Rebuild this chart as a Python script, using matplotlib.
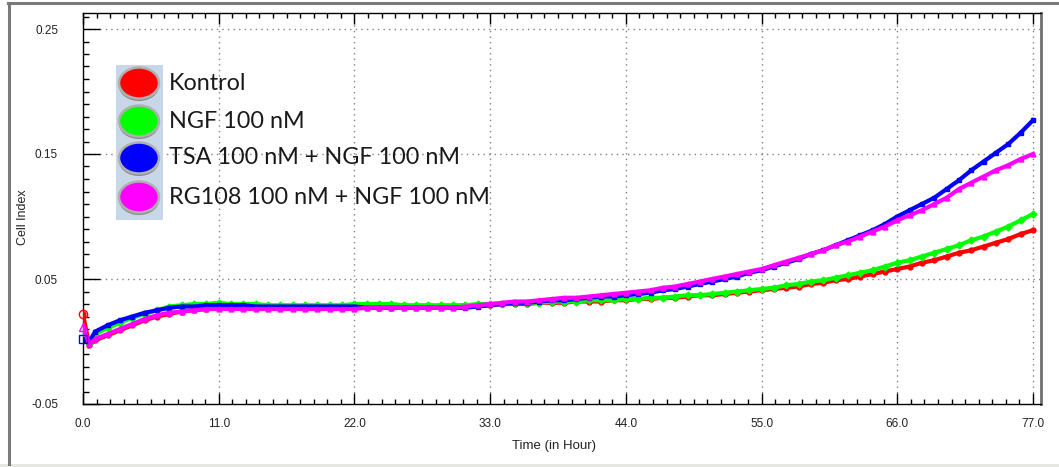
import matplotlib
matplotlib.use("Agg")
import matplotlib.pyplot as plt
from matplotlib.patches import Rectangle, Ellipse
from matplotlib.lines import Line2D
from matplotlib.ticker import MultipleLocator, FixedLocator

# ---------------- data ----------------
time_h = [0, 0.5] + list(range(1, 78))

kontrol = [0.022, -0.003,
           0.001, 0.005, 0.009, 0.013, 0.017, 0.020, 0.022, 0.024, 0.025, 0.026,
           0.027, 0.027, 0.028, 0.028, 0.027, 0.027, 0.028, 0.028, 0.027, 0.027,
           0.028, 0.028, 0.028, 0.027, 0.027, 0.028, 0.028, 0.028, 0.028, 0.028,
           0.029, 0.029, 0.029, 0.030, 0.030, 0.030, 0.031, 0.031, 0.031, 0.032,
           0.032, 0.032, 0.033, 0.033, 0.034, 0.034, 0.035, 0.035, 0.036, 0.037,
           0.037, 0.038, 0.039, 0.040, 0.041, 0.042, 0.043, 0.044, 0.046, 0.047,
           0.049, 0.050, 0.052, 0.054, 0.056, 0.058, 0.060, 0.063, 0.065, 0.068,
           0.071, 0.073, 0.076, 0.079, 0.082, 0.086, 0.089]

ngf = [0.004, -0.001,
       0.006, 0.011, 0.015, 0.019, 0.022, 0.025, 0.028, 0.029, 0.030, 0.030,
       0.031, 0.030, 0.030, 0.030, 0.029, 0.029, 0.029, 0.029, 0.029, 0.029,
       0.029, 0.030, 0.030, 0.030, 0.030, 0.029, 0.029, 0.029, 0.029, 0.029,
       0.029, 0.030, 0.030, 0.030, 0.031, 0.031, 0.031, 0.032, 0.032, 0.032,
       0.033, 0.033, 0.033, 0.034, 0.034, 0.035, 0.035, 0.036, 0.037, 0.037,
       0.038, 0.039, 0.040, 0.041, 0.042, 0.043, 0.045, 0.046, 0.048, 0.049,
       0.051, 0.053, 0.055, 0.057, 0.060, 0.063, 0.065, 0.068, 0.071, 0.074,
       0.077, 0.081, 0.084, 0.088, 0.092, 0.097, 0.102]

tsa_ngf = [0.002, 0.000,
           0.008, 0.013, 0.017, 0.020, 0.023, 0.025, 0.027, 0.028, 0.028, 0.029,
           0.029, 0.029, 0.029, 0.028, 0.028, 0.028, 0.028, 0.028, 0.028, 0.028,
           0.028, 0.028, 0.027, 0.027, 0.027, 0.027, 0.027, 0.027, 0.027, 0.027,
           0.027, 0.028, 0.029, 0.030, 0.031, 0.031, 0.032, 0.033, 0.033, 0.034,
           0.035, 0.036, 0.036, 0.037, 0.038, 0.039, 0.041, 0.042, 0.044, 0.046,
           0.048, 0.050, 0.052, 0.055, 0.057, 0.060, 0.063, 0.066, 0.070, 0.073,
           0.077, 0.081, 0.085, 0.089, 0.094, 0.100, 0.105, 0.110, 0.115, 0.122,
           0.129, 0.137, 0.144, 0.151, 0.158, 0.167, 0.177]

rg108_ngf = [0.012, -0.002,
             0.002, 0.006, 0.010, 0.014, 0.018, 0.021, 0.023, 0.024, 0.025, 0.026,
             0.026, 0.026, 0.026, 0.026, 0.026, 0.026, 0.026, 0.026, 0.026, 0.026,
             0.026, 0.026, 0.027, 0.027, 0.027, 0.027, 0.027, 0.027, 0.027, 0.027,
             0.028, 0.029, 0.030, 0.031, 0.032, 0.032, 0.033, 0.034, 0.035, 0.035,
             0.036, 0.037, 0.038, 0.039, 0.040, 0.041, 0.043, 0.044, 0.046, 0.048,
             0.050, 0.052, 0.054, 0.056, 0.058, 0.061, 0.064, 0.067, 0.070, 0.073,
             0.077, 0.080, 0.084, 0.088, 0.092, 0.097, 0.101, 0.105, 0.110, 0.115,
             0.122, 0.127, 0.132, 0.137, 0.141, 0.146, 0.150]

labels = ["Kontrol", "NGF 100 nM", "TSA 100 nM + NGF 100 nM", "RG108 100 nM + NGF 100 nM"]
colors = ["#ff0000", "#00ff00", "#0000ff", "#ff00ff"]
markers = ["o", "D", "s", "^"]
series = [kontrol, ngf, tsa_ngf, rg108_ngf]
show_start = [True, False, True, True]

x_ticks = [0.0, 11.0, 22.0, 33.0, 44.0, 55.0, 66.0, 77.0]
y_ticks = [-0.05, 0.05, 0.15, 0.25]

# ---------------- figure ----------------
W, H = 1059, 467
fig = plt.figure(figsize=(W / 100, H / 100), dpi=100)
fig.patch.set_facecolor("white")

def fx(px):
    return px / W

def fy(py):
    return 1 - py / H

ax = fig.add_axes([fx(83), fy(404), fx(1041) - fx(83), fy(13) - fy(404)])
ax.set_xlim(0, 77.65)
ax.set_ylim(-0.05, 0.2628)

for xs in x_ticks[1:]:
    ax.axvline(xs, color="#808080", lw=1.0, ls=(0, (1, 3)), zorder=1)
for ys in y_ticks[1:]:
    ax.axhline(ys, color="#808080", lw=1.0, ls=(0, (1, 3)), zorder=1)

for vals, c, m, s in zip(series, colors, markers, show_start):
    ax.plot(time_h, vals, color=c, lw=3.0, marker=m, ms=3.5, mec=c, mfc=c, zorder=3,
            solid_joinstyle="miter")
    if s:
        ax.plot(time_h[:1], vals[:1], ls="none", marker=m, ms=6, mfc="none", mec=c,
                mew=1.0, zorder=4, clip_on=False)

ax.xaxis.set_major_locator(FixedLocator(x_ticks))
ax.xaxis.set_minor_locator(MultipleLocator(1.1))
ax.yaxis.set_major_locator(FixedLocator(y_ticks))
ax.yaxis.set_minor_locator(MultipleLocator(0.01))
ax.set_xticklabels([f"{v:.1f}" for v in x_ticks])
ax.set_yticklabels([f"{v:.2f}" for v in y_ticks])

ax.tick_params(axis="x", which="major", direction="in", length=8, width=1,
               top=True, bottom=True, pad=10, labelsize=8.5, labelcolor="#222222")
ax.tick_params(axis="x", which="minor", direction="in", length=3.6, width=1,
               top=True, bottom=True)
ax.tick_params(axis="y", which="major", direction="in", length=12, width=1,
               left=True, right=False, pad=18, labelsize=8.5, labelcolor="#222222")
ax.tick_params(axis="y", which="minor", direction="in", length=4.3, width=1,
               left=True, right=False)
for lab in ax.get_xticklabels() + ax.get_yticklabels():
    lab.set_family(["Liberation Sans", "DejaVu Sans"])

for side in ["left", "bottom", "top"]:
    ax.spines[side].set_color("black")
    ax.spines[side].set_linewidth(1.0)
ax.spines["right"].set_color("#707070")
ax.spines["right"].set_linewidth(2.0)

fig.text(fx(23), fy(217), "Cell Index", rotation=90, ha="center", va="center",
         fontsize=9, family=["Liberation Sans", "DejaVu Sans"], color="#222222")
fig.text(fx(554), fy(446), "Time (in Hour)", ha="center", va="center",
         fontsize=9.5, family=["Liberation Sans", "DejaVu Sans"], color="#222222")

# ---------------- legend (custom) ----------------
fig.patches.append(Rectangle((fx(116), fy(220)), fx(163) - fx(116), fy(65) - fy(220),
                             transform=fig.transFigure, facecolor="#c8d7e8",
                             edgecolor="none", zorder=5))
leg_y = [83, 121, 158, 197]
for yy, c, lab in zip(leg_y, colors, labels):
    fig.patches.append(Ellipse((fx(139), fy(yy + 3)), fx(40), 30 / H,
                               transform=fig.transFigure, facecolor="#8a8a8a",
                               edgecolor="none", zorder=6))
    fig.patches.append(Ellipse((fx(139), fy(yy)), fx(40), 31 / H,
                               transform=fig.transFigure, facecolor=c,
                               edgecolor="#b0b0b0", lw=1.8, zorder=7))
    fig.text(fx(169), fy(yy), lab, ha="left", va="center", fontsize=16.8,
             family=["Lato", "DejaVu Sans"], color="#1a1a1a", zorder=8)

# ---------------- window frame ----------------
fig.add_artist(Line2D([fx(8), fx(1059)], [fy(3), fy(3)], transform=fig.transFigure,
                      color="#7a7a7a", lw=2.2))
fig.add_artist(Line2D([fx(9), fx(9)], [fy(3), fy(464)], transform=fig.transFigure,
                      color="#7a7a7a", lw=2.2))
fig.patches.append(Rectangle((0, 0), 1, 3 / H, transform=fig.transFigure,
                             facecolor="#e6e6e2", edgecolor="none"))

fig.savefig("out.png", dpi=100)
